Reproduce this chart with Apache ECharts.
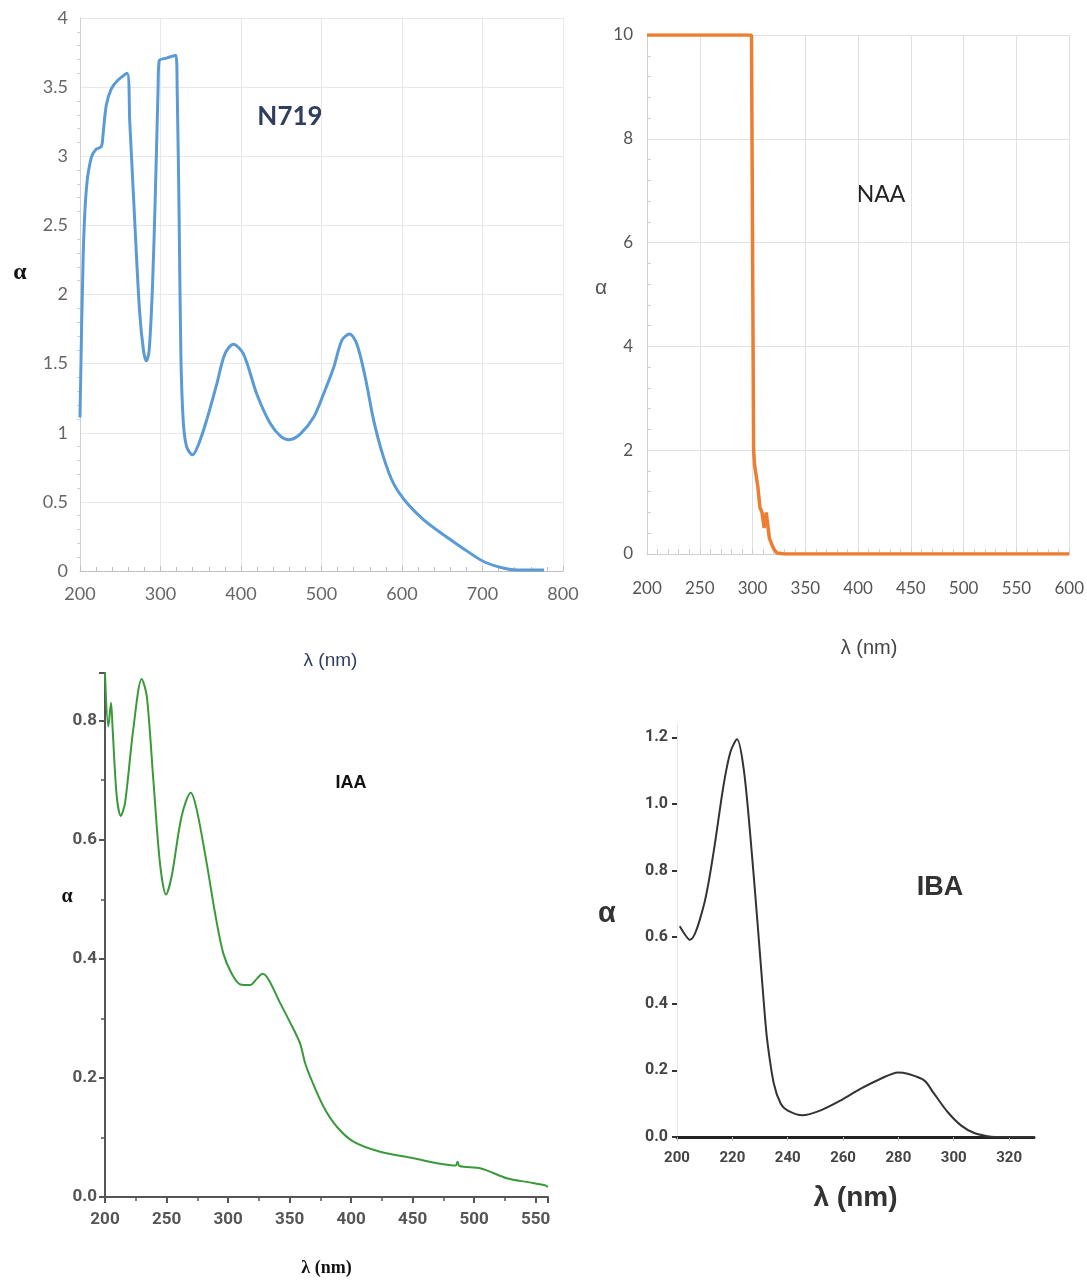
<!DOCTYPE html>
<html>
<head>
<meta charset="utf-8">
<script src="https://cdn.jsdelivr.net/npm/echarts@6/dist/echarts.min.js"></script>
<style>
  html, body { margin: 0; padding: 0; background: #fff; }
  #main { width: 1087px; height: 1281px; }
</style>
</head>
<body>
<div id="main"></div>
<script>
// N719 spectrum
var n719X = [200, 204, 208, 214, 220, 226.5, 228.5, 232.7, 239, 247, 258.4, 261.8, 268, 274, 279, 282.5, 285.8, 290, 293.8, 297, 298.3, 307.5, 319, 320.7, 323.2, 325.3, 328.2, 332.4, 339.8, 346.9, 357.3, 369.8, 380, 390.5, 403, 419.6, 436, 450, 460, 473.5, 490, 502.5, 515, 525.4, 534.9, 544, 554.4, 564.8, 577.2, 589.7, 606.4, 627, 652, 676.8, 701.8, 726.7, 743.4, 776.5]
var n719Y = [1.11, 2.29, 2.77, 2.99, 3.05, 3.07, 3.15, 3.37, 3.49, 3.55, 3.60, 3.25, 2.53, 1.88, 1.59, 1.52, 1.59, 2.05, 2.77, 3.49, 3.69, 3.71, 3.73, 3.49, 2.53, 1.57, 1.09, 0.90, 0.84, 0.91, 1.09, 1.35, 1.57, 1.64, 1.57, 1.28, 1.07, 0.97, 0.95, 0.99, 1.11, 1.28, 1.47, 1.67, 1.715, 1.64, 1.40, 1.09, 0.82, 0.63, 0.49, 0.37, 0.26, 0.16, 0.067, 0.02, 0.007, 0.007]

// NAA spectrum
var naaX = [200, 250, 299, 300, 301, 302, 305, 307, 309, 311, 313, 316, 320, 323, 330, 400, 500, 600]
var naaY = [10, 10, 10, 10, 2.0, 1.7, 1.3, 0.9, 0.8, 0.5, 0.8, 0.3, 0.1, 0.02, 0, 0, 0, 0]

// IAA spectrum
var iaaX = [200, 202.7, 204.9, 206.2, 209.5, 212.8, 216.3, 223, 229.8, 233.9, 239.3, 244.7, 249.6, 254.2, 262.3, 269.7, 274.5, 282.6, 289.4, 296, 303, 310, 318, 324, 328, 333, 342.3, 350, 358.5, 362.6, 366.7, 377.5, 388.4, 401.9, 423.6, 450.7, 472.4, 485, 486.5, 488, 505.5, 527.2, 543.5, 557, 560]
var iaaY = [0.88, 0.79, 0.83, 0.786, 0.674, 0.64, 0.662, 0.786, 0.87, 0.842, 0.70, 0.56, 0.508, 0.539, 0.64, 0.679, 0.651, 0.561, 0.477, 0.41, 0.375, 0.357, 0.356, 0.368, 0.375, 0.365, 0.326, 0.295, 0.258, 0.225, 0.202, 0.152, 0.118, 0.093, 0.076, 0.065, 0.056, 0.053, 0.059, 0.052, 0.048, 0.031, 0.025, 0.02, 0.017]

// IBA spectrum
var ibaX = [201, 204.7, 209.6, 213.2, 216.8, 219.3, 221.7, 224.1, 226.5, 229, 231.4, 232.6, 235, 237.5, 239.9, 245.3, 251.9, 259.2, 266.4, 273.6, 279.9, 283.3, 289.3, 292.9, 297.8, 302.6, 307.4, 312.2, 315, 329]
var ibaY = [0.633, 0.592, 0.693, 0.854, 1.055, 1.156, 1.194, 1.105, 0.904, 0.653, 0.40, 0.29, 0.16, 0.10, 0.08, 0.065, 0.08, 0.11, 0.145, 0.175, 0.194, 0.19, 0.17, 0.13, 0.075, 0.035, 0.012, 0.002, 0, 0]

function pairs(xs, ys) {
  var out = []
  for (var i = 0; i < xs.length; i++) {
    out.push([xs[i], ys[i]])
  }
  return out
}

var myChart = echarts.init(document.getElementById('main'))

myChart.setOption({
  backgroundColor: '#fff',
  animation: false,
  grid: [
    { left: 80, top: 18, width: 483, height: 553 },
    { left: 647, top: 35, width: 424, height: 519 },
    { left: 105, top: 673, width: 443, height: 524 },
    { left: 677, top: 724, width: 357, height: 413 }
  ],
  xAxis: [
    {
      gridIndex: 0, type: 'value', min: 200, max: 800, interval: 100,
      name: 'λ (nm)', nameLocation: 'middle', nameGap: 80,
      nameTextStyle: { color: '#2f3e5e', fontSize: 19, fontFamily: 'Arial', padding: [0, 0, 0, 18] },
      axisLine: { lineStyle: { color: '#bfbfbf' } },
      axisTick: { show: true, inside: true, length: 5, lineStyle: { color: '#bfbfbf' } },
      minorTick: { show: true, splitNumber: 5, length: 4, lineStyle: { color: '#bfbfbf' } },
      splitLine: { show: true, lineStyle: { color: '#e8e8e8' } },
      axisLabel: { color: '#666', fontSize: 18, fontFamily: 'Lato, sans-serif', margin: 14 }
    },
    {
      gridIndex: 1, type: 'value', min: 200, max: 600, interval: 50,
      name: 'λ (nm)', nameLocation: 'middle', nameGap: 84,
      nameTextStyle: { color: '#444', fontSize: 20, fontFamily: 'Arial', padding: [0, 0, 0, 22] },
      axisLine: { lineStyle: { color: '#cfcfcf' } },
      axisTick: { show: true, inside: true, length: 5, lineStyle: { color: '#cfcfcf' } },
      minorTick: { show: true, splitNumber: 5, length: 5, lineStyle: { color: '#cfcfcf' } },
      splitLine: { show: true, lineStyle: { color: '#e0e0e0' } },
      axisLabel: { color: '#555', fontSize: 17, fontFamily: 'Lato, sans-serif', margin: 26 }
    },
    {
      gridIndex: 2, type: 'value', min: 200, max: 560, interval: 50,
      name: 'λ (nm)', nameLocation: 'middle', nameGap: 62,
      nameTextStyle: { color: '#111', fontSize: 18, fontWeight: 'bold', fontFamily: 'Liberation Serif, serif' },
      axisLine: { lineStyle: { color: '#555', width: 2 } },
      axisTick: { show: true, length: 6, lineStyle: { color: '#555', width: 2 } },
      minorTick: { show: true, splitNumber: 2, length: 4, lineStyle: { color: '#555', width: 1.5 } },
      splitLine: { show: false },
      axisLabel: { color: '#555', fontSize: 17, fontFamily: 'Roboto, sans-serif', fontWeight: 'bold', margin: 14, showMaxLabel: false }
    },
    {
      gridIndex: 3, type: 'value', min: 200, max: 329, interval: 20,
      name: 'λ (nm)', nameLocation: 'middle', nameGap: 47,
      nameTextStyle: { color: '#333', fontSize: 28, fontWeight: 'bold', fontFamily: 'Arial' },
      axisLine: { lineStyle: { color: '#222', width: 3 } },
      axisTick: { show: true, length: 4, lineStyle: { color: '#bbb' } },
      splitLine: { show: false },
      axisLabel: { color: '#444', fontSize: 15, fontFamily: 'Roboto, sans-serif', fontWeight: 'bold', margin: 14, showMaxLabel: false }
    }
  ],
  yAxis: [
    {
      gridIndex: 0, type: 'value', min: 0, max: 4, interval: 0.5,
      axisLine: { show: true, lineStyle: { color: '#d0d0d0' } },
      axisTick: { show: false },
      minorTick: { show: true, splitNumber: 5, length: 3, lineStyle: { color: '#d0d0d0' } },
      splitLine: { show: true, lineStyle: { color: '#e8e8e8' } },
      axisLabel: { color: '#666', fontSize: 18, fontFamily: 'Lato, sans-serif', margin: 12 }
    },
    {
      gridIndex: 1, type: 'value', min: 0, max: 10, interval: 2,
      axisLine: { show: true, lineStyle: { color: '#cfcfcf' } },
      axisTick: { show: false, inside: true },
      minorTick: { show: true, splitNumber: 5, length: 4, lineStyle: { color: '#cfcfcf' } },
      splitLine: { show: true, lineStyle: { color: '#e0e0e0' } },
      axisLabel: { color: '#555', fontSize: 17, fontFamily: 'Lato, sans-serif', margin: 14 }
    },
    {
      gridIndex: 2, type: 'value', min: 0, max: 0.88, interval: 0.2,
      axisLine: { show: true, lineStyle: { color: '#555', width: 2 } },
      axisTick: { show: true, length: 6, lineStyle: { color: '#555', width: 2 } },
      minorTick: { show: true, splitNumber: 2, length: 4, lineStyle: { color: '#555', width: 1.5 } },
      splitLine: { show: false },
      axisLabel: { color: '#555', fontSize: 17, fontFamily: 'Roboto, sans-serif', fontWeight: 'bold', margin: 8, showMaxLabel: false,
        formatter: function (v) { return v.toFixed(1) } }
    },
    {
      gridIndex: 3, type: 'value', min: 0, max: 1.24, interval: 0.2,
      axisLine: { show: true, lineStyle: { color: '#e6e6e6' } },
      axisTick: { show: true, length: 5, lineStyle: { color: '#333', width: 2 } },
      splitLine: { show: false },
      axisLabel: { color: '#444', fontSize: 16, fontFamily: 'Roboto, sans-serif', fontWeight: 'bold', margin: 9, showMaxLabel: false,
        formatter: function (v) { return v.toFixed(1) } }
    }
  ],
  graphic: [
    // panel titles
    { type: 'text', x: 290, y: 117, style: { text: 'N719', fill: '#2f3e5e', fontSize: 26, fontWeight: 'bold', fontFamily: 'Lato, sans-serif', align: 'center', verticalAlign: 'middle' } },
    { type: 'text', x: 881, y: 195, style: { text: 'NAA', fill: '#222', fontSize: 23, fontFamily: 'Lato, sans-serif', align: 'center', verticalAlign: 'middle' } },
    { type: 'text', x: 351, y: 783, style: { text: 'IAA', fill: '#111', fontSize: 18, fontWeight: 'bold', fontFamily: 'Arial, sans-serif', align: 'center', verticalAlign: 'middle' } },
    { type: 'text', x: 940, y: 888, style: { text: 'IBA', fill: '#333', fontSize: 27, fontWeight: 'bold', fontFamily: 'Arial, sans-serif', align: 'center', verticalAlign: 'middle' } },
    // y axis names
    { type: 'text', x: 20, y: 273, style: { text: 'α', fill: '#111', fontSize: 24, fontWeight: 'bold', fontFamily: 'Liberation Serif, serif', align: 'center', verticalAlign: 'middle' } },
    { type: 'text', x: 601, y: 288, style: { text: 'α', fill: '#555', fontSize: 21, fontFamily: 'Arial, sans-serif', align: 'center', verticalAlign: 'middle' } },
    { type: 'text', x: 67, y: 897, style: { text: 'α', fill: '#111', fontSize: 20, fontWeight: 'bold', fontFamily: 'Liberation Serif, serif', align: 'center', verticalAlign: 'middle' } },
    { type: 'text', x: 607, y: 914, style: { text: 'α', fill: '#333', fontSize: 29, fontWeight: 'bold', fontFamily: 'Arial, sans-serif', align: 'center', verticalAlign: 'middle' } }
  ],
  series: [
    {
      type: 'line', xAxisIndex: 0, yAxisIndex: 0, data: pairs(n719X, n719Y),
      smooth: 0.3, showSymbol: false,
      lineStyle: { color: '#5b9bd5', width: 3 }
    },
    {
      type: 'line', xAxisIndex: 1, yAxisIndex: 1, data: pairs(naaX, naaY),
      showSymbol: false,
      lineStyle: { color: '#ed7d31', width: 3.5 }
    },
    {
      type: 'line', xAxisIndex: 2, yAxisIndex: 2, data: pairs(iaaX, iaaY),
      smooth: 0.3, showSymbol: false,
      lineStyle: { color: '#3a9a3a', width: 2 }
    },
    {
      type: 'line', xAxisIndex: 3, yAxisIndex: 3, data: pairs(ibaX, ibaY),
      smooth: 0.3, showSymbol: false,
      lineStyle: { color: '#333', width: 2 }
    }
  ]
})
</script>
</body>
</html>
